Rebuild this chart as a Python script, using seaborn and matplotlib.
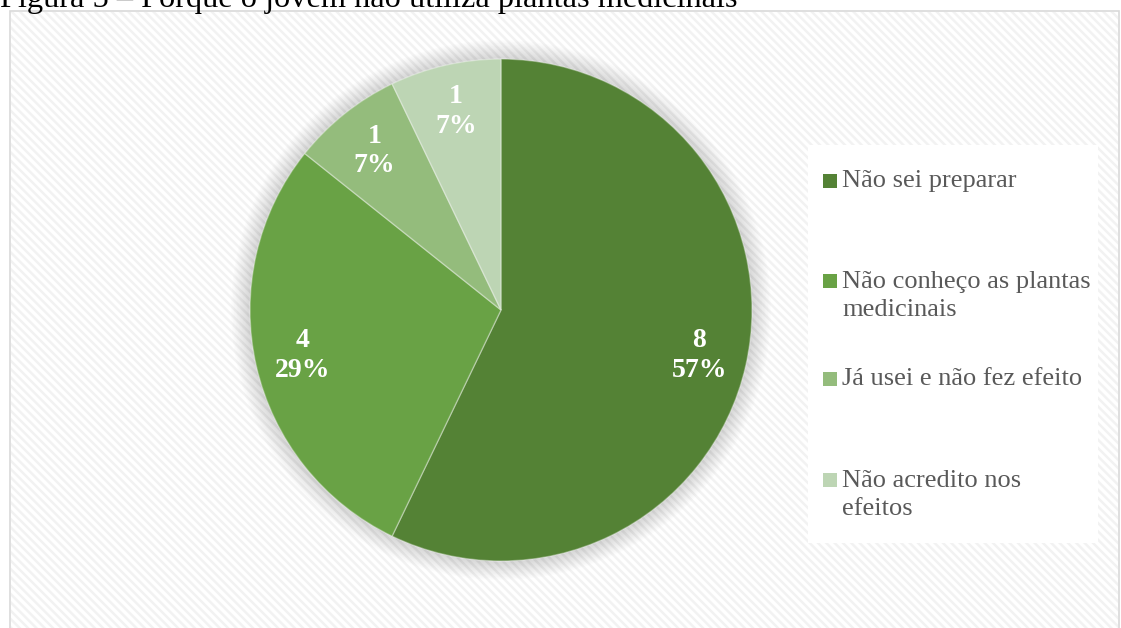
import matplotlib
matplotlib.use("Agg")
import matplotlib.pyplot as plt
import matplotlib.patches as mpatches
import seaborn as sns
import numpy as np

# ---- data ----
categories = ["Não sei preparar", "Não conheço as plantas\nmedicinais",
              "Já usei e não fez efeito", "Não acredito nos\nefeitos"]
counts = [8, 4, 1, 1]
slice_colors = ["#548235", "#69A245", "#94BC7C", "#BDD5B4"]
title_text = "Figura 5 – Porque o jovem não utiliza plantas medicinais"

sns.set_theme(style="white")
plt.rcParams['font.family'] = ['Liberation Serif', 'DejaVu Serif']
plt.rcParams['hatch.linewidth'] = 1.8

W, H = 1121, 628
fig = plt.figure(figsize=(W / 100, H / 100), dpi=100)
fig.patch.set_facecolor("white")

def fx(px):
    return px / W

def fy(py):
    return 1 - py / H

# chart area background with subtle diagonal stripes
bg = mpatches.Rectangle((fx(10), fy(640)), fx(1119) - fx(10), fy(11) - fy(640),
                        transform=fig.transFigure, facecolor="white",
                        edgecolor="#d9d9d9", linewidth=1.2, zorder=-3)
fig.patches.append(bg)
stripes = mpatches.Rectangle((fx(11), fy(640)), fx(1118) - fx(11), fy(12) - fy(640),
                             transform=fig.transFigure, facecolor="none",
                             edgecolor="#f2f2f2", linewidth=0, hatch="\\" * 4,
                             zorder=-2)
fig.patches.append(stripes)

# title (partially cut off at the top, as in the reference)
fig.text(fx(0), fy(7), title_text, fontsize=23.3, color="black",
         ha="left", va="baseline")

# pie axes
cx, cy, R = 501, 310, 251
lim = 1.2
half = R * lim
ax = fig.add_axes([fx(cx - half), fy(cy + half), 2 * half / W, 2 * half / H])
ax.set_zorder(1)
ax.set_xlim(-lim, lim)
ax.set_ylim(-lim, lim)
ax.axis("off")
ax.patch.set_alpha(0)

# soft shadow around the pie
for r in np.linspace(1.0, 1.075, 14):
    ax.add_patch(mpatches.Circle((0, 0), r, facecolor="black", alpha=0.012,
                                 edgecolor="none", zorder=1))

total = sum(counts)

def fmt(p):
    n = int(round(p * total / 100.0))
    return f"{n}\n{p:.0f}%"

wedges, texts, autotexts = ax.pie(
    counts, colors=slice_colors, startangle=90, counterclock=False,
    autopct=fmt, pctdistance=0.81, radius=1.0,
    wedgeprops=dict(edgecolor=(1, 1, 1, 0.35), linewidth=1),
    textprops=dict(color="white", fontsize=20, fontweight="bold",
                   linespacing=1.25),
    frame=False)
for w in wedges:
    w.set_zorder(2)
for t in autotexts:
    t.set_zorder(3)
ax.set_xlim(-lim, lim)
ax.set_ylim(-lim, lim)

# legend box
lg = mpatches.Rectangle((fx(808), fy(543)), fx(1098) - fx(808), fy(145) - fy(543),
                        transform=fig.transFigure, facecolor="white",
                        edgecolor="none", zorder=2)
fig.patches.append(lg)

legend_centers = [181, 296, 379, 495]
for lab, col, yc in zip(categories, slice_colors, legend_centers):
    nlines = lab.count("\n") + 1
    y_first = yc - (nlines - 1) * 15.5
    fig.patches.append(mpatches.Rectangle((fx(823), fy(y_first + 7)), 14 / W, 14 / H,
                                          transform=fig.transFigure,
                                          facecolor=col, edgecolor="none", zorder=3))
    fig.text(fx(842), fy(yc), lab, fontsize=19, color="#595959",
             ha="left", va="center", linespacing=1.3, zorder=4)

fig.savefig("out.png", dpi=100)
